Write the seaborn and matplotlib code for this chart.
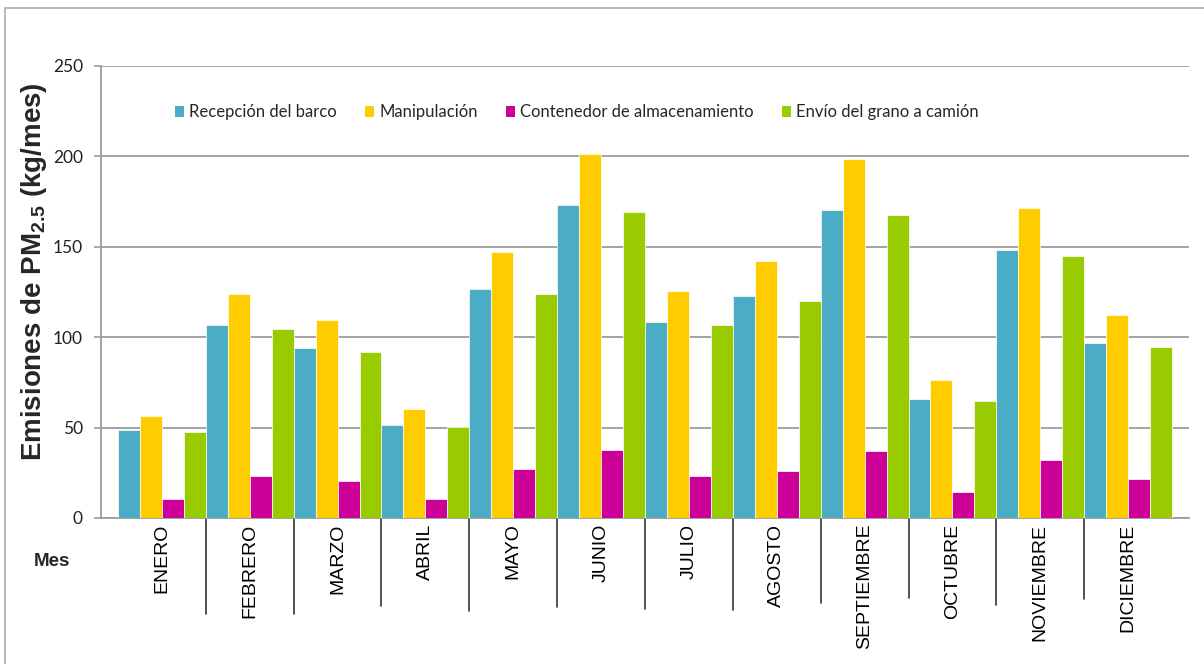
import matplotlib
matplotlib.use("Agg")
import matplotlib.pyplot as plt
import matplotlib.patches as mpatches
from matplotlib.lines import Line2D
import seaborn as sns
import pandas as pd

# ---------------- data ----------------
meses = ["ENERO", "FEBRERO", "MARZO", "ABRIL", "MAYO", "JUNIO", "JULIO",
         "AGOSTO", "SEPTIEMBRE", "OCTUBRE", "NOVIEMBRE", "DICIEMBRE"]
series = ["Recepción del barco", "Manipulación",
          "Contenedor de almacenamiento", "Envío del grano a camión"]
recepcion = [48.4, 106.7, 93.9, 51.2, 126.8, 173.2, 108.3, 122.9, 170.4, 65.8, 148.1, 96.9]
manipulacion = [56.2, 123.8, 109.4, 60.1, 147.1, 201.5, 125.7, 142.1, 198.3, 76.3, 171.3, 112.4]
contenedor = [10.7, 23.3, 20.3, 10.7, 27.2, 37.7, 23.3, 26.2, 36.8, 14.6, 32.0, 21.3]
envio = [47.3, 104.4, 91.9, 50.3, 123.8, 169.5, 106.5, 120.0, 167.5, 64.9, 145.1, 94.8]
yticks = [0, 50, 100, 150, 200, 250]
colores = ["#4BACC6", "#FFCC00", "#CC0099", "#99CC00"]

valores = [recepcion, manipulacion, contenedor, envio]
df = pd.DataFrame({
    "Mes": [m for s in series for m in meses],
    "Fuente": [s for s in series for _ in meses],
    "Valor": [v for vals in valores for v in vals],
})

# ---------------- style ----------------
sns.set_style("white")
plt.rcParams["font.family"] = ["Liberation Sans", "DejaVu Sans"]
plt.rcParams["mathtext.fontset"] = "custom"
plt.rcParams["mathtext.rm"] = "Liberation Sans"
plt.rcParams["mathtext.bf"] = "Liberation Sans:bold"

W, H = 1204, 664
fig = plt.figure(figsize=(W / 100, H / 100), dpi=100)
fig.patch.set_facecolor("white")

ax_l, ax_r, ax_t, ax_b = 101, 1189, 66, 518
ax = fig.add_axes([ax_l / W, 1 - ax_b / H, (ax_r - ax_l) / W, (ax_b - ax_t) / H])

sns.barplot(data=df, x="Mes", y="Valor", hue="Fuente", order=meses,
            hue_order=series, palette=colores, saturation=1, width=1.0,
            errorbar=None, edgecolor="white", linewidth=0.5, legend=False,
            ax=ax, zorder=3)

ax.set_xlim(-0.693, 11.693)
ax.set_ylim(0, 250)
ax.set_yticks(yticks)
ax.set_yticklabels([str(t) for t in yticks], family="Lato", fontsize=12.5,
                   color="#222222")
ax.yaxis.grid(True, color="#9C9C9C", linewidth=1.3, zorder=0)
ax.xaxis.grid(False)
ax.set_axisbelow(True)
ax.tick_params(axis="y", which="major", length=5, width=1.2, color="#9C9C9C",
               pad=8, left=True, direction="out")
ax.tick_params(axis="x", length=0, pad=4)
ax.set_xticks(range(len(meses)))
ax.set_xticklabels(meses, rotation=90, fontsize=14, va="top", ha="center",
                   color="black")
ax.set_xlabel("")
ax.set_ylabel("")
for side in ["top", "right"]:
    ax.spines[side].set_visible(False)
for side in ["left", "bottom"]:
    ax.spines[side].set_color("#9C9C9C")
    ax.spines[side].set_linewidth(1.3)

# category separators below the axis
sep_len_px = [96, 96, 88, 93, 89, 91, 92, 85, 80, 87, 81]
axh = ax_b - ax_t
for i, L in enumerate(sep_len_px):
    ax.add_line(Line2D([i + 0.5, i + 0.5], [0, -L / axh],
                       transform=ax.get_xaxis_transform(), color="#333333",
                       linewidth=1.2, clip_on=False))

# legend
handles = [mpatches.Patch(facecolor=c, edgecolor="none") for c in colores]
ax.legend(handles, series, loc="center", bbox_to_anchor=(0.4375, 0.898),
          ncol=4, frameon=False, handlelength=0.55, handleheight=0.6,
          handletextpad=0.3, columnspacing=1.7,
          prop={"family": "Lato", "size": 12})

# axis titles
fig.text(34 / W, 1 - 272 / H, r"Emisiones de PM$_{\mathbf{2.5}}$ (kg/mes)",
         rotation=90, ha="center", va="center", fontsize=20, fontweight="bold")
fig.text(52 / W, 1 - 562 / H, "Mes", ha="center", va="center", fontsize=13.5,
         fontweight="bold")

# outer border (top and left visible)
fig.add_artist(Line2D([5 / W, 1], [1 - 8 / H, 1 - 8 / H], transform=fig.transFigure,
                      color="#BBBBBB", linewidth=1.5))
fig.add_artist(Line2D([5 / W, 5 / W], [0, 1 - 8 / H], transform=fig.transFigure,
                      color="#BBBBBB", linewidth=1.5))

fig.savefig("out.png", dpi=100, facecolor="white")
